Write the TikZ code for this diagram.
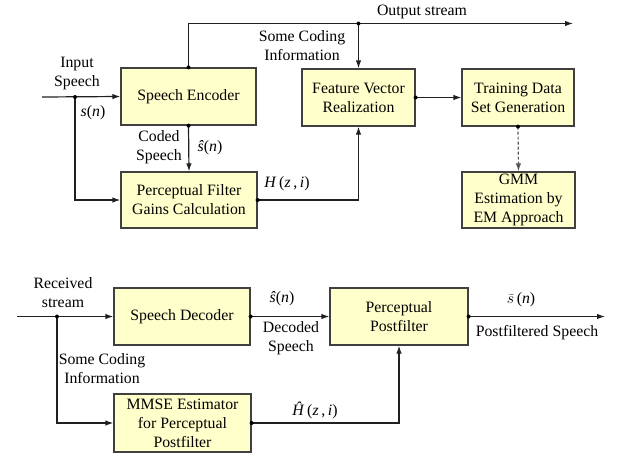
\RequirePackage{fix-cm}
\documentclass[tikz,border=0pt]{standalone}
\usepackage{fontspec}
\setmainfont{Liberation Serif}
\usetikzlibrary{arrows.meta,calc}
\definecolor{boxfill}{HTML}{FFFFCC}
\definecolor{boxline}{HTML}{404040}
\definecolor{wire}{HTML}{202020}
\newcommand{\iv}[1]{\textit{#1}}
\begin{document}
\begin{tikzpicture}[x=1pt,y=-1pt,
  font=\fontsize{15.8}{19}\selectfont,
  blk/.style={draw=boxline,line width=1.2pt,fill=boxfill,align=center,inner sep=0pt},
  wireline/.style={draw=wire,line width=1.2pt},
  arr/.style={wireline,-{Latex[length=8pt,width=5.5pt]}},
  dashedarr/.style={draw=black!65,line width=1.2pt,dashed,dash pattern=on 3pt off 2pt,-{Latex[length=8pt,width=5.5pt]}},
  dot/.style={circle,fill=black,inner sep=0pt,minimum size=4pt},
  lbl/.style={align=center,inner sep=0pt}]
\useasboundingbox (0,0) rectangle (624,453);
% top boxes
\node[blk,minimum width=135pt,minimum height=57pt] (enc) at (188.5,96.5) {Speech Encoder};
\node[blk,minimum width=136pt,minimum height=56pt] (pf) at (189,200) {Perceptual Filter\\Gains Calculation};
\node[blk,minimum width=113pt,minimum height=57pt] (fv) at (358.5,97.5) {Feature Vector\\Realization};
\node[blk,minimum width=112pt,minimum height=57pt] (td) at (518,97.5) {Training Data\\Set Generation};
\node[blk,minimum width=113pt,minimum height=56pt] (gmm) at (518.5,200) {GMM\\Estimation by\\EM Approach};
% bottom boxes
\node[blk,minimum width=136pt,minimum height=57pt] (dec) at (182,316.5) {Speech Decoder};
\node[blk,minimum width=137pt,minimum height=58pt] (mmse) at (182.5,423) {MMSE Estimator\\for Perceptual\\Postfilter};
\node[blk,minimum width=138pt,minimum height=57pt] (pp) at (399,316.5) {Perceptual\\Postfilter};
% coordinates
\coordinate (in) at (42,97);
\coordinate (j1) at (75,97);
\coordinate (outend) at (573,23.5);
\coordinate (j2) at (fv.north |- outend);
\coordinate (rin) at (17,316.5);
\coordinate (j3) at (57,316.5);
\coordinate (out2) at (605,316.5);
% top connectors
\draw[arr] (in) -- (enc.west);
\draw[arr] (j1) |- (pf.west);
\draw[arr] (enc.north) |- (outend);
\draw[arr] (j2) -- (fv.north);
\draw[arr] (enc.south) -- (pf.north);
\draw[arr] (pf.east) -| (fv.south);
\draw[arr] (fv.east) -- (td.west);
\draw[dashedarr] (td.south) -- (gmm.north);
% bottom connectors
\draw[arr] (rin) -- (dec.west);
\draw[arr] (j3) |- (mmse.west);
\draw[arr] (dec.east) -- (pp.west);
\draw[arr] (pp.east) -- (out2);
\draw[arr] (mmse.east) -| (pp.south);
% dots
\foreach \p in {j1,j2,j3,enc.north,enc.south,pf.east,fv.east,td.south,dec.east,pp.east,mmse.east}
  \node[dot] at (\p) {};
% labels
\node[lbl] (l1) at (77,74) {Input\\Speech};
\node[lbl] (l2) at (93,113) {\iv{s}(\iv{n})};
\node[lbl] (l3) at (302,46) {Some Coding\\Information};
\node[lbl] (l4) at (422,12) {Output stream};
\node[lbl] (l5) at (159,147) {Coded\\Speech};
\node[lbl] (l6) at (210,148) {\iv{ŝ}(\iv{n})};
\node[lbl] (l7) at (287,184) {\iv{H}\,(\iv{z}\,,\,\iv{i})};
\node[lbl] (l8) at (63,293) {Received\\stream};
\node[lbl] (l9) at (102,369) {Some Coding\\Information};
\node[lbl] (l10) at (282,299) {\iv{ŝ}(\iv{n})};
\node[lbl] (l11) at (291,338) {Decoded\\Speech};
\node[lbl] (l12) at (521,300) {$\widetilde{s}$\,(\iv{n})};
\node[lbl] (l13) at (537,333) {Postfiltered Speech};
\node[lbl] (l14) at (315,410) {\iv{Ĥ}\,(\iv{z}\,,\,\iv{i})};
\end{tikzpicture}
\end{document}
